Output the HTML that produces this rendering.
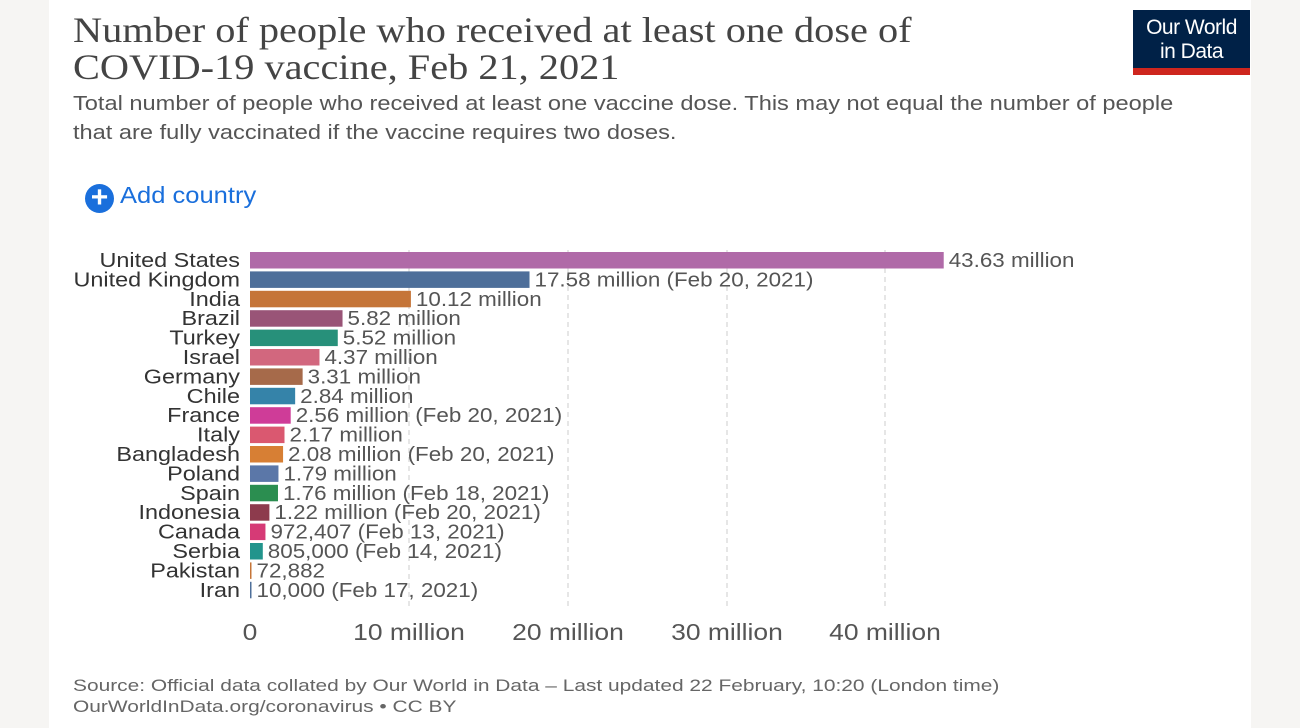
<!DOCTYPE html>
<html><head><meta charset="utf-8"><style>
body{margin:0;width:1300px;height:728px;background:#f6f5f3;overflow:hidden;font-family:"Liberation Sans",sans-serif;}
#p{position:absolute;left:49px;top:0;width:1202px;height:728px;background:#fff;}
.t{position:absolute;font-family:"Liberation Serif",serif;font-size:36px;color:#444;left:24px;line-height:37px;top:12px;transform:scaleX(1.12);transform-origin:0 0;white-space:nowrap}
.s{position:absolute;left:24px;top:90px;font-size:20px;line-height:29px;color:#555;transform:scaleX(1.18);transform-origin:0 0;white-space:nowrap}
.logo{position:absolute;left:1084px;top:10px;width:117px;height:65px;background:#002147;color:#fff;font-size:21px;line-height:24px;text-align:center;box-sizing:border-box;padding-top:6px;border-bottom:7px solid #ce261e;letter-spacing:-0.5px}
.add{position:absolute;left:36px;top:182px;font-size:23px;color:#1a6fdc;white-space:nowrap}
.add b{font-weight:normal;display:inline-block;transform:scaleX(1.11);transform-origin:0 0}
.add span{display:inline-block;width:29px;height:29px;border-radius:50%;background:#1a6fdc;color:#fff;text-align:center;line-height:28px;font-size:30px;font-weight:bold;vertical-align:-4px;margin-right:6px}
.f{position:absolute;left:24px;top:675px;font-size:17px;line-height:21px;color:#666;transform:scaleX(1.23);transform-origin:0 0;white-space:nowrap}
svg{position:absolute;left:0;top:0}
</style></head><body>
<div id="p">
<div class="t">Number of people who received at least one dose of<br>COVID-19 vaccine, Feb 21, 2021</div>
<div class="s">Total number of people who received at least one vaccine dose. This may not equal the number of people<br>that are fully vaccinated if the vaccine requires two doses.</div>
<div class="logo">Our World<br>in Data</div>
<div class="add"><span>+</span><b>Add country</b></div>
<div class="f">Source: Official data collated by Our World in Data – Last updated 22 February, 10:20 (London time)<br>OurWorldInData.org/coronavirus • CC BY</div>
</div>
<svg width="1300" height="728" font-family="Liberation Sans, sans-serif">
<g stroke="#ccc" stroke-dasharray="5,4" stroke-width="1">
<line x1="409" y1="250" x2="409" y2="610"/><line x1="568" y1="250" x2="568" y2="610"/><line x1="727" y1="250" x2="727" y2="610"/><line x1="885" y1="250" x2="885" y2="610"/></g>
<g id="ax" font-size="23" fill="#555" text-anchor="middle">
<text x="250" y="640">0</text><text x="409" y="640">10 million</text><text x="568" y="640">20 million</text><text x="727" y="640">30 million</text><text x="885" y="640">40 million</text></g>
<g id="bars" font-size="20"></g>
</svg>
<script>
var d=[["United States",43.63,"43.63 million","#b06aa8"],["United Kingdom",17.58,"17.58 million (Feb 20, 2021)","#4e6f9a"],["India",10.12,"10.12 million","#c57538"],["Brazil",5.82,"5.82 million","#995477"],["Turkey",5.52,"5.52 million","#27907a"],["Israel",4.37,"4.37 million","#d2677e"],["Germany",3.31,"3.31 million","#a66a4a"],["Chile",2.84,"2.84 million","#3583a9"],["France",2.56,"2.56 million (Feb 20, 2021)","#cf3c98"],["Italy",2.17,"2.17 million","#da5870"],["Bangladesh",2.08,"2.08 million (Feb 20, 2021)","#d77f34"],["Poland",1.79,"1.79 million","#5b77a8"],["Spain",1.76,"1.76 million (Feb 18, 2021)","#2b8e50"],["Indonesia",1.22,"1.22 million (Feb 20, 2021)","#8d3b4d"],["Canada",0.972,"972,407 (Feb 13, 2021)","#d63a76"],["Serbia",0.805,"805,000 (Feb 14, 2021)","#22948c"],["Pakistan",0.073,"72,882","#c57538"],["Iran",0.01,"10,000 (Feb 17, 2021)","#4e6f9a"]];
var g=document.getElementById('bars'),h='';
d.forEach(function(r,i){var y=252+i*19.4,w=Math.max(r[1]*15.9,1.5);
h+='<rect x="250" y="'+y+'" width="'+w+'" height="16.5" fill="'+r[3]+'"/>';
h+='<text class="c" x="240" y="'+(y+15)+'" text-anchor="end" fill="#333">'+r[0]+'</text>';
h+='<text class="v" x="'+(250+w+5)+'" y="'+(y+15)+'" fill="#555">'+r[2]+'</text>';});
g.innerHTML=h;
function fit(sel,k){document.querySelectorAll(sel).forEach(function(t){var L=t.getComputedTextLength();t.setAttribute('textLength',L*k);t.setAttribute('lengthAdjust','spacingAndGlyphs');});}
fit('.c',1.17);fit('.v',1.12);fit('#ax text',1.15);
</script>
</body></html>
